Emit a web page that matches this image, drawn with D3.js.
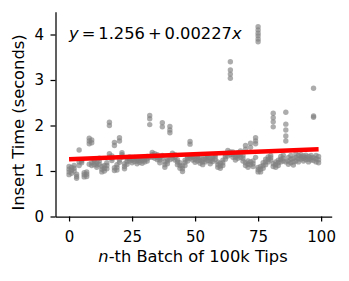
<!DOCTYPE html>
<html>
<head>
<meta charset="utf-8">
<script src="https://cdn.jsdelivr.net/npm/d3@7"></script>
<style>
  body { margin: 0; background: #fff; }
  text { font-family: "DejaVu Sans", sans-serif; }
</style>
</head>
<body>
<script>
// Insert time per batch, scatter + linear fit

// batch index -> measured insert times (seconds)
var batchTimes = [
  [0.92, 0.98, 1.04, 1.10], [0.95, 1.02, 1.08], [1.00, 1.06, 1.12], [0.84, 0.88, 0.93],
  [1.46, 1.12, 1.20], [1.18, 1.22, 1.25], [0.87, 0.92, 0.96], [0.88, 0.93, 0.98],
  [1.72, 1.66, 1.60, 1.15], [1.68, 1.62, 1.12, 1.18], [1.14, 1.20, 1.24], [1.08, 1.13, 1.18],
  [1.15, 1.22, 1.28], [0.98, 1.04, 1.10], [1.00, 1.06, 1.12], [1.05, 1.12, 1.18],
  [2.07, 2.00, 1.38, 1.31], [1.23, 1.28, 1.33], [1.63, 1.56, 1.01, 1.07], [1.02, 1.08, 1.14],
  [1.73, 1.66, 1.19, 1.24], [1.30, 1.36, 1.40], [1.05, 1.10, 1.16], [1.15, 1.21, 1.27],
  [1.22, 1.27, 1.31], [1.18, 1.24, 1.30], [1.21, 1.26, 1.30], [1.16, 1.22, 1.27],
  [1.19, 1.24, 1.29], [1.17, 1.23, 1.28], [1.20, 1.25, 1.30], [1.22, 1.27, 1.32],
  [2.22, 2.15, 2.02, 1.30], [1.30, 1.36, 1.41], [1.28, 1.33, 1.38], [1.25, 1.31, 1.36],
  [1.18, 1.24, 1.29], [2.06, 1.97, 1.28, 1.34], [1.08, 1.14, 1.20], [1.16, 1.22, 1.27],
  [1.98, 1.90, 1.84, 1.25], [1.28, 1.34, 1.39], [1.24, 1.30, 1.36], [1.14, 1.20, 1.25],
  [1.06, 1.12, 1.18], [0.99, 1.05, 1.11], [1.12, 1.19, 1.24], [1.22, 1.28, 1.33],
  [1.65, 1.59, 1.28, 1.33], [1.24, 1.30, 1.35], [1.19, 1.25, 1.31], [1.22, 1.28, 1.33],
  [1.17, 1.23, 1.29], [1.14, 1.20, 1.26], [1.20, 1.26, 1.31], [1.23, 1.29, 1.34],
  [1.16, 1.22, 1.28], [1.21, 1.27, 1.32], [1.25, 1.31, 1.36], [1.08, 1.14, 1.20],
  [1.06, 1.11, 1.17], [1.12, 1.18, 1.24], [1.26, 1.32, 1.37], [1.33, 1.39, 1.45],
  [3.40, 3.22, 3.13, 3.04, 1.36, 1.42], [1.30, 1.36, 1.42], [1.24, 1.30, 1.35], [1.28, 1.34, 1.40],
  [1.30, 1.37, 1.44], [1.22, 1.28, 1.34], [1.56, 1.48, 1.12, 1.18], [1.08, 1.15, 1.22],
  [1.61, 1.52, 1.14, 1.20], [1.10, 1.16, 1.22], [1.73, 1.66, 1.60, 1.30],
  [4.17, 4.10, 4.03, 3.97, 3.90, 3.84, 0.98, 1.03, 1.08],
  [0.98, 1.04, 1.10], [1.06, 1.12, 1.18], [1.14, 1.20, 1.26], [1.20, 1.26, 1.31],
  [1.24, 1.29, 1.34], [2.27, 2.17, 2.08, 1.97, 1.10, 1.16], [1.08, 1.14, 1.20], [1.12, 1.18, 1.24],
  [1.20, 1.26, 1.32], [1.22, 1.28, 1.35], [2.29, 2.03, 1.90, 1.77, 1.66, 1.20], [1.15, 1.22, 1.30],
  [1.18, 1.26, 1.34], [1.13, 1.20, 1.28], [1.22, 1.30, 1.38], [1.20, 1.27, 1.34],
  [1.26, 1.31, 1.36], [1.22, 1.28, 1.33], [1.25, 1.30, 1.35], [1.20, 1.26, 1.32],
  [1.24, 1.29, 1.34], [2.82, 2.21, 2.18, 1.23, 1.29], [1.20, 1.27, 1.34], [1.18, 1.25, 1.32]
];

var xTicks = [0, 25, 50, 75, 100];
var yTicks = [0, 1, 2, 3, 4];

// fit from the annotation
var intercept = 1.256;
var slope = 0.00227;
var fitX = [0, 99];

var svgwidth = 349;
var svgheight = 281;

var svg = d3.select("body")
            .append("svg")
            .attr("width", svgwidth)
            .attr("height", svgheight);

var xScale = d3.scaleLinear()
        .domain([-5.5, 104.2])
        .range([55.2, 331.7]);

var yScale = d3.scaleLinear()
        .domain([0, 4.5])
        .range([216.5, 11.75]);

// flatten into points
var points = [];
batchTimes.forEach(function(times, i) {
    times.forEach(function(t) {
        points.push({batch: i, time: t});
    });
});

svg.append("g")
    .selectAll("circle")
    .data(points)
    .enter()
    .append("circle")
    .attr("cx", d => xScale(d.batch))
    .attr("cy", d => yScale(d.time))
    .attr("r", 2.7)
    .attr("fill", "#808080")
    .attr("opacity", 0.65);

// regression line
var line = d3.line()
    .x(d => xScale(d))
    .y(d => yScale(intercept + slope * d));

svg.append("path")
    .datum(fitX)
    .attr("d", line)
    .attr("fill", "none")
    .attr("stroke", "#ff0000")
    .attr("stroke-width", 4.5);

// axes
var bottomAxis = d3.axisBottom(xScale)
    .tickValues(xTicks)
    .tickSize(5)
    .tickPadding(9.5)
    .tickSizeOuter(0);

var leftAxis = d3.axisLeft(yScale)
    .tickValues(yTicks)
    .tickFormat(d3.format("d"))
    .tickSize(5)
    .tickPadding(6.5)
    .tickSizeOuter(0);

var gx = svg.append("g")
    .attr("transform", "translate(0, 216.5)")
    .call(bottomAxis);

var gy = svg.append("g")
    .attr("transform", "translate(55.5, 0)")
    .call(leftAxis);

[gx, gy].forEach(function(g) {
    g.selectAll("path").attr("stroke", "#000").attr("stroke-width", 1.25);
    g.selectAll("line").attr("stroke", "#000").attr("stroke-width", 1.25);
    g.selectAll("text")
        .attr("font-family", "DejaVu Sans")
        .attr("font-size", "15px")
        .attr("fill", "#000");
});

// axis labels
var xl = svg.append("text")
    .attr("x", 193)
    .attr("y", 261.7)
    .attr("text-anchor", "middle")
    .attr("font-size", "16.3px");
xl.append("tspan").attr("font-style", "italic").text("n");
xl.append("tspan").text("-th Batch of 100k Tips");

svg.append("text")
    .attr("transform", "translate(24, 122.5) rotate(-90)")
    .attr("text-anchor", "middle")
    .attr("font-size", "16.3px")
    .text("Insert Time (seconds)");

// equation annotation
var eq = svg.append("text")
    .attr("x", 69)
    .attr("y", 39.3)
    .attr("font-size", "16.3px");
eq.append("tspan").attr("font-style", "italic").text("y");
eq.append("tspan").attr("dx", 3).text("=");
eq.append("tspan").attr("dx", 3).text("1.256");
eq.append("tspan").attr("dx", 3).text("+");
eq.append("tspan").attr("dx", 3).text("0.00227");
eq.append("tspan").attr("font-style", "italic").text("x");
</script>
</body>
</html>
